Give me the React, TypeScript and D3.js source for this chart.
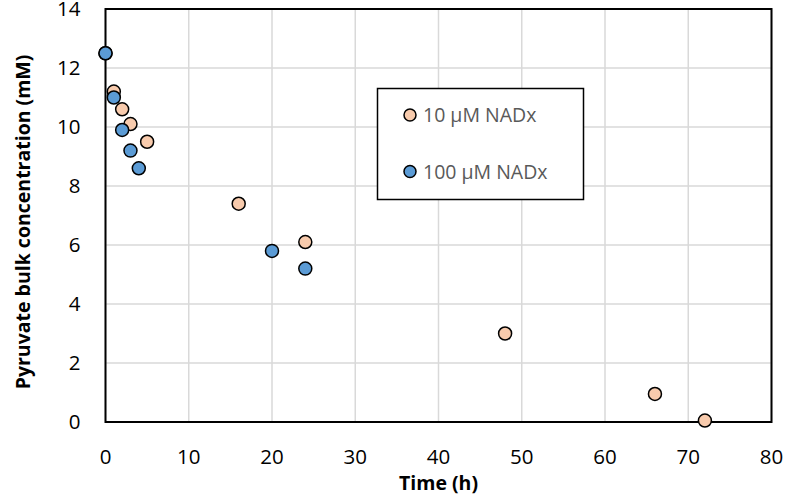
import React from 'react';
import * as d3 from 'd3';

// time (h) and pyruvate concentration (mM)
const timeLow = [0, 1, 2, 3, 5, 16, 24, 48, 66, 72];
const concLow = [12.5, 11.2, 10.6, 10.1, 9.5, 7.4, 6.1, 3.0, 0.95, 0.05];
const timeHigh = [0, 1, 2, 3, 4, 20, 24];
const concHigh = [12.5, 11.0, 9.9, 9.2, 8.6, 5.8, 5.2];
const xTicks = [0, 10, 20, 30, 40, 50, 60, 70, 80];
const yTicks = [0, 2, 4, 6, 8, 10, 12, 14];
const seriesNames = ['10 µM NADx', '100 µM NADx'];
const seriesColors = ['#F8CBAD', '#5B9BD5'];

const W = 789;
const H = 503;
const margin = { top: 9, right: 17.5, bottom: 81, left: 105.5 };
const font = "'Open Sans', 'Liberation Sans', sans-serif";

const App = () => {
  const x = d3.scaleLinear().domain([0, 80]).range([margin.left, W - margin.right]);
  const y = d3.scaleLinear().domain([0, 14]).range([H - margin.bottom, margin.top]);

  const series = [
    { name: seriesNames[0], color: seriesColors[0], pts: timeLow.map((t, i) => [t, concLow[i]]) },
    { name: seriesNames[1], color: seriesColors[1], pts: timeHigh.map((t, i) => [t, concHigh[i]]) },
  ];

  return (
    <svg width={W} height={H} style={{ position: 'absolute', left: 0, top: 0 }} fontFamily={font}>
      <rect width={W} height={H} fill="#fff" />
      {/* grid */}
      {xTicks.map((t) => (
        <line key={'gx' + t} x1={x(t)} x2={x(t)} y1={y(14)} y2={y(0)} stroke="#D9D9D9" strokeWidth={1.5} />
      ))}
      {yTicks.map((t) => (
        <line key={'gy' + t} x1={x(0)} x2={x(80)} y1={y(t)} y2={y(t)} stroke="#D9D9D9" strokeWidth={1.5} />
      ))}
      {/* frame */}
      <rect x={x(0)} y={y(14)} width={x(80) - x(0)} height={y(0) - y(14)} fill="none" stroke="#000" strokeWidth={2} />
      {/* tick labels */}
      {xTicks.map((t) => (
        <text key={'tx' + t} x={x(t)} y={y(0) + 42} textAnchor="middle" fontSize={20.5} fill="#000">
          {t}
        </text>
      ))}
      {yTicks.map((t) => (
        <text key={'ty' + t} x={x(0) - 25} y={y(t)} dy="0.36em" textAnchor="end" fontSize={20.5} fill="#000">
          {t}
        </text>
      ))}
      {/* axis titles */}
      <text x={(x(0) + x(80)) / 2} y={490} textAnchor="middle" fontSize={19.5} fontWeight="bold">
        Time (h)
      </text>
      <text
        transform={`translate(30,222) rotate(-90)`}
        textAnchor="middle"
        fontSize={19.5}
        fontWeight="bold"
      >
        Pyruvate bulk concentration (mM)
      </text>
      {/* points */}
      {series.map((s) => (
        <g key={s.name}>
          {s.pts.map((p, i) => (
            <circle key={i} cx={x(p[0])} cy={y(p[1])} r={6.5} fill={s.color} stroke="#000" strokeWidth={1.5} />
          ))}
        </g>
      ))}
      {/* legend */}
      <rect x={377.5} y={88.5} width={206} height={111} fill="#fff" stroke="#000" strokeWidth={1.5} />
      {series.map((s, i) => (
        <g key={'lg' + i} transform={`translate(410,${115 + i * 56.5})`}>
          <circle r={6} fill={s.color} stroke="#000" strokeWidth={1.5} />
          <text x={13} dy="0.36em" fontSize={19.5} fill="#595959">
            {s.name}
          </text>
        </g>
      ))}
    </svg>
  );
};

export default App;
